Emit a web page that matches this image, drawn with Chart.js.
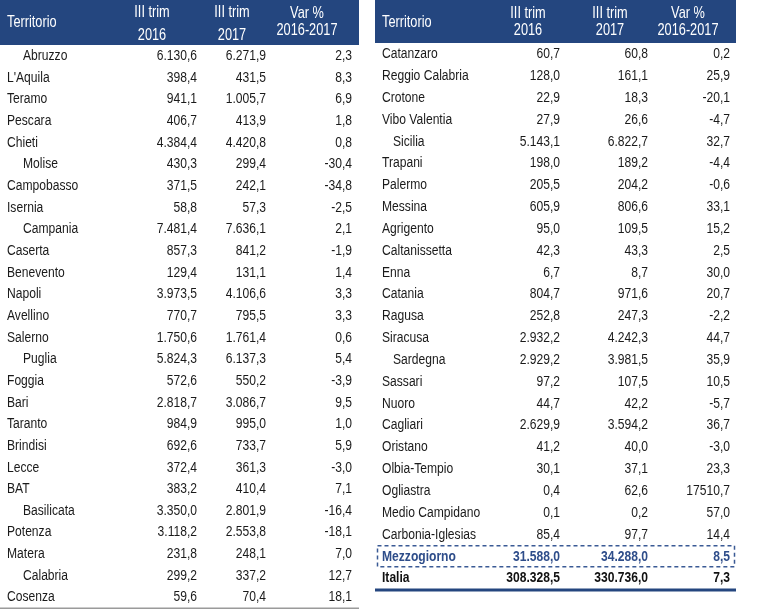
<!DOCTYPE html>
<html>
<head>
<meta charset="utf-8">
<script src="https://cdn.jsdelivr.net/npm/chart.js@4/dist/chart.umd.min.js"></script>
<style>
  body { margin: 0; background: #fff; }
  #wrap { position: relative; width: 757px; height: 611px; }
  canvas { position: absolute; top: 0; }
  #left { left: 0; }
  #right { left: 375px; }
</style>
</head>
<body>
<div id="wrap">
  <canvas id="left" width="360" height="611"></canvas>
  <canvas id="right" width="362" height="611"></canvas>
</div>
<script>
// intestazioni
const headTerr = 'Territorio';
const head2016 = ['III trim', '2016'];
const head2017 = ['III trim', '2017'];
const headVar = ['Var %', '2016-2017'];

// pannello sinistro
const leftNames = ['Abruzzo', "L'Aquila", 'Teramo', 'Pescara', 'Chieti', 'Molise', 'Campobasso', 'Isernia',
  'Campania', 'Caserta', 'Benevento', 'Napoli', 'Avellino', 'Salerno', 'Puglia', 'Foggia', 'Bari', 'Taranto',
  'Brindisi', 'Lecce', 'BAT', 'Basilicata', 'Potenza', 'Matera', 'Calabria', 'Cosenza'];
const leftRegions = ['Abruzzo', 'Molise', 'Campania', 'Puglia', 'Basilicata', 'Calabria'];
const left2016 = [6130.6, 398.4, 941.1, 406.7, 4384.4, 430.3, 371.5, 58.8, 7481.4, 857.3, 129.4, 3973.5, 770.7,
  1750.6, 5824.3, 572.6, 2818.7, 984.9, 692.6, 372.4, 383.2, 3350.0, 3118.2, 231.8, 299.2, 59.6];
const left2017 = [6271.9, 431.5, 1005.7, 413.9, 4420.8, 299.4, 242.1, 57.3, 7636.1, 841.2, 131.1, 4106.6, 795.5,
  1761.4, 6137.3, 550.2, 3086.7, 995.0, 733.7, 361.3, 410.4, 2801.9, 2553.8, 248.1, 337.2, 70.4];
const leftVar = [2.3, 8.3, 6.9, 1.8, 0.8, -30.4, -34.8, -2.5, 2.1, -1.9, 1.4, 3.3, 3.3, 0.6, 5.4, -3.9, 9.5, 1.0,
  5.9, -3.0, 7.1, -16.4, -18.1, 7.0, 12.7, 18.1];

// pannello destro
const rightNames = ['Catanzaro', 'Reggio Calabria', 'Crotone', 'Vibo Valentia', 'Sicilia', 'Trapani', 'Palermo',
  'Messina', 'Agrigento', 'Caltanissetta', 'Enna', 'Catania', 'Ragusa', 'Siracusa', 'Sardegna', 'Sassari', 'Nuoro',
  'Cagliari', 'Oristano', 'Olbia-Tempio', 'Ogliastra', 'Medio Campidano', 'Carbonia-Iglesias', 'Mezzogiorno', 'Italia'];
const rightRegions = ['Sicilia', 'Sardegna'];
const right2016 = [60.7, 128.0, 22.9, 27.9, 5143.1, 198.0, 205.5, 605.9, 95.0, 42.3, 6.7, 804.7, 252.8, 2932.2,
  2929.2, 97.2, 44.7, 2629.9, 41.2, 30.1, 0.4, 0.1, 85.4, 31588.0, 308328.5];
const right2017 = [60.8, 161.1, 18.3, 26.6, 6822.7, 189.2, 204.2, 806.6, 109.5, 43.3, 8.7, 971.6, 247.3, 4242.3,
  3981.5, 107.5, 42.2, 3594.2, 40.0, 37.1, 62.6, 0.2, 97.7, 34288.0, 330736.0];
const rightVar = [0.2, 25.9, -20.1, -4.7, 32.7, -4.4, -0.6, 33.1, 15.2, 2.5, 30.0, 20.7, -2.2, 44.7, 35.9, 10.5,
  -5.7, 36.7, -3.0, 23.3, 17510.7, 57.0, 14.4, 8.5, 7.3];

const BLUE = '#24467f';
const FONT = '"Liberation Sans", Arial, sans-serif';

function fmt(v, group) {
  const neg = v < 0;
  const parts = Math.abs(v).toFixed(1).split('.');
  let int = parts[0];
  if (group) int = int.replace(/\B(?=(\d{3})+(?!\d))/g, '.');
  return (neg ? '-' : '') + int + ',' + parts[1];
}

// niente font condensato installato: stringo il testo a mano
function text(ctx, s, x, y, align, sx) {
  ctx.save();
  ctx.translate(x, y);
  ctx.scale(sx, 1);
  ctx.textAlign = align;
  ctx.textBaseline = 'middle';
  ctx.fillText(s, 0, 0);
  ctx.restore();
}

const tablePlugin = {
  id: 'tabella',
  beforeDraw(chart, args, o) {
    const ctx = chart.ctx;
    const top = chart.chartArea.top;
    ctx.save();
    ctx.fillStyle = BLUE;
    ctx.fillRect(0, 0, o.panelW, top);
    ctx.fillStyle = '#fff';
    ctx.font = '17px ' + FONT;
    text(ctx, headTerr, 7, o.terrY, 'left', 0.75);
    const heads = [head2016, head2017, headVar];
    heads.forEach((h, k) => {
      text(ctx, h[0], o.headX[k], o.headY[k][0], 'center', 0.75);
      text(ctx, h[1], o.headX[k], o.headY[k][1], 'center', 0.75);
    });
    ctx.restore();
  },
  afterDatasetsDraw(chart, args, o) {
    const ctx = chart.ctx;
    const y = chart.scales.y;
    const names = chart.data.labels;
    ctx.save();
    names.forEach((n, i) => {
      const py = y.getPixelForValue(i);
      const special = o.special[n];
      ctx.fillStyle = special ? special.color : '#1a1a1a';
      ctx.font = (special ? 'bold ' : '') + '15.5px ' + FONT;
      const isReg = o.regions.includes(n);
      text(ctx, n, isReg ? o.indent : 7, py, 'left', 0.78);
      chart.data.datasets.forEach((ds, d) => {
        const el = chart.getDatasetMeta(d).data[i];
        text(ctx, fmt(ds.values[i], d < 2), el.x, el.y, 'right', 0.78);
      });
    });
    // linee
    if (o.dashRow) {
      const i = names.indexOf(o.dashRow);
      const band = (y.getPixelForValue(1) - y.getPixelForValue(0));
      const cy = y.getPixelForValue(i);
      ctx.strokeStyle = '#3a5a95';
      ctx.lineWidth = 1.5;
      ctx.setLineDash([4, 3]);
      ctx.strokeRect(2.5, cy - band / 2 + 0.5, o.panelW - 4, band - 1);
      ctx.setLineDash([]);
    }
    ctx.strokeStyle = o.bottomColor;
    ctx.lineWidth = o.bottomWidth;
    ctx.beginPath();
    ctx.moveTo(0, chart.chartArea.bottom + o.bottomWidth / 2 - 0.5);
    ctx.lineTo(o.panelW, chart.chartArea.bottom + o.bottomWidth / 2 - 0.5);
    ctx.stroke();
    ctx.restore();
  }
};

function makeTable(id, names, a, b, c, cfg) {
  const canvas = document.getElementById(id);
  const pts = (vals, x) => names.map((n, i) => ({ x: x, y: n }));
  return new Chart(canvas, {
    type: 'scatter',
    data: {
      labels: names,
      datasets: [
        { data: pts(a, cfg.colX[0]), values: a, pointRadius: 0 },
        { data: pts(b, cfg.colX[1]), values: b, pointRadius: 0 },
        { data: pts(c, cfg.colX[2]), values: c, pointRadius: 0 }
      ]
    },
    options: {
      responsive: false,
      animation: false,
      devicePixelRatio: 1,
      layout: { padding: { top: cfg.top, bottom: cfg.bottom, left: 0, right: 0 } },
      scales: {
        x: { type: 'linear', min: 0, max: canvas.width, display: false },
        y: { type: 'category', labels: names, offset: true, display: false }
      },
      plugins: {
        legend: { display: false },
        tooltip: { enabled: false },
        tabella: cfg.table
      }
    },
    plugins: [tablePlugin]
  });
}

makeTable('left', leftNames, left2016, left2017, leftVar, {
  top: 45, bottom: 3, colX: [197, 266, 352],
  table: {
    panelW: 359, terrY: 22, indent: 23, regions: leftRegions, special: {},
    headX: [152, 232, 307], headY: [[12, 35], [12, 35], [13, 30]],
    bottomColor: '#9a9a9a', bottomWidth: 1.5
  }
});

makeTable('right', rightNames, right2016, right2017, rightVar, {
  top: 43, bottom: 22, colX: [185, 273, 355],
  table: {
    panelW: 361, terrY: 22, indent: 18, regions: rightRegions,
    special: { 'Mezzogiorno': { color: '#2e4d8a' }, 'Italia': { color: '#111' } },
    dashRow: 'Mezzogiorno',
    headX: [153, 235, 313], headY: [[13, 30], [13, 30], [13, 30]],
    bottomColor: BLUE, bottomWidth: 3
  }
});
</script>
</body>
</html>
